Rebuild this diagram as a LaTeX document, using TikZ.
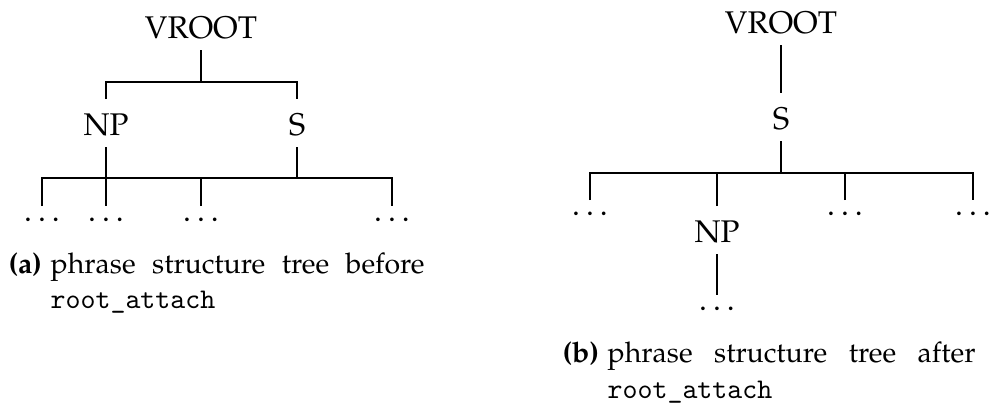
\documentclass[tikz,border=0pt]{standalone}
\usepackage[T1]{fontenc}
\usepackage{mathpazo}
\usepackage{tikz}
\usetikzlibrary{positioning,calc}

\newcommand{\cmdname}[1]{{\fontencoding{TU}\fontfamily{lmtt}\selectfont #1}}

\begin{document}
\begin{tikzpicture}[
  x=0.3509pt, y=-0.3509pt,
  every path/.style={line width=0.5pt},
  cat/.style={anchor=base, font=\fontsize{11}{13}\selectfont, text height=8.3pt, text depth=0pt, inner ysep=4pt},
  leaf/.style={anchor=base, font=\fontsize{11}{13}\selectfont, text height=1pt, text depth=0pt, inner ysep=4pt},
  capText/.style={anchor=base west, inner sep=0pt, font=\fontsize{10}{12}\selectfont}
]
  \useasboundingbox (0,0) rectangle (992,403);

  % before
  \node[cat] (vrA) at (201,38) {VROOT};
  \node[cat] (npA) at (106,135) {NP};
  \node[cat] (sA) at (297,135) {S};
  \node[leaf] (dA1) at (42,221) {$\dots$};
  \node[leaf] (dA2) at (106,221) {$\dots$};
  \node[leaf] (dA3) at (201,221) {$\dots$};
  \node[leaf] (dA4) at (392,221) {$\dots$};
  \coordinate (barA) at (201,82);
  \coordinate (barB) at (297,178);

  \draw (vrA.south) -- (barA);
  \draw (npA.north) |- (barA) -| (sA.north);
  \draw (sA.south) -- (barB);
  \draw (dA1.north) |- (barB) -| (dA4.north);
  \draw (dA3.north) -- (dA3.north |- barB);
  \draw (npA.south) -- (dA2.north);

  \node[capText] (capA) at (8,273) {\textbf{(a)}};
  \node[capText] (capAtxt) at (50,273) {\makebox[131.2pt][s]{phrase structure tree before}};
  \node[capText] (capAcmd) at (50,308) {\cmdname{root\_attach}};

  % after
  \node[cat] (vrB) at (781,33) {VROOT};
  \node[cat] (sB) at (781,129) {S};
  \node[leaf] (dB1) at (590,215) {$\dots$};
  \node[cat] (npB) at (717,242) {NP};
  \node[leaf] (dB3) at (845,215) {$\dots$};
  \node[leaf] (dB4) at (973,215) {$\dots$};
  \node[leaf] (dB5) at (717,310) {$\dots$};
  \coordinate (barC) at (781,173);

  \draw (vrB.south) -- (sB.north);
  \draw (sB.south) -- (barC);
  \draw (dB1.north) |- (barC) -| (dB4.north);
  \draw (npB.north) -- (npB.north |- barC);
  \draw (dB3.north) -- (dB3.north |- barC);
  \draw (npB.south) -- (dB5.north);

  \node[capText] (capB) at (562,362) {\textbf{(b)}};
  \node[capText] (capBtxt) at (607,362) {\makebox[129.1pt][s]{phrase structure tree after}};
  \node[capText] (capBcmd) at (607,398) {\cmdname{root\_attach}};
\end{tikzpicture}
\end{document}
